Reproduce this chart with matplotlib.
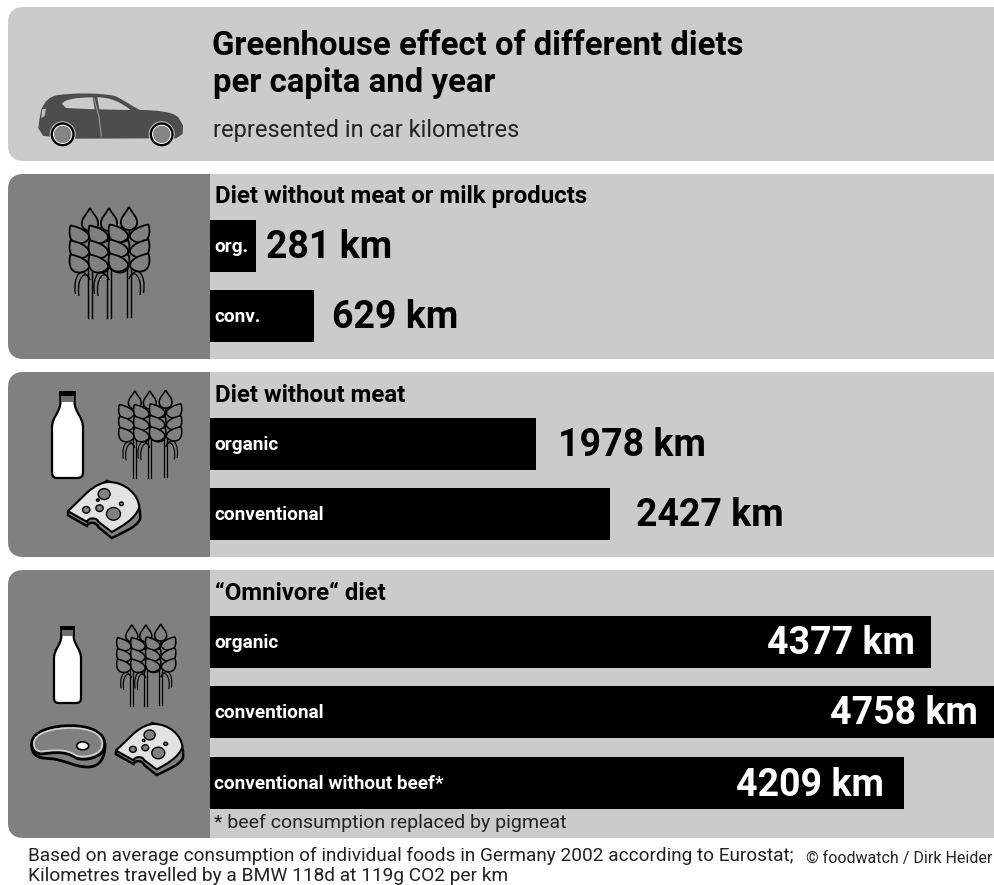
import matplotlib
matplotlib.use("Agg")
import matplotlib.pyplot as plt
from matplotlib.patches import PathPatch, Ellipse, Rectangle, Circle
from matplotlib.path import Path

plt.rcParams['font.family'] = ['Roboto', 'DejaVu Sans']

# data
title_lines = ["Greenhouse effect of different diets", "per capita and year"]
subtitle = "represented in car kilometres"
group_names = ["Diet without meat or milk products", "Diet without meat", "\u201cOmnivore\u201c diet"]
bar_labels = ["org.", "conv.", "organic", "conventional", "organic", "conventional", "conventional without beef*"]
bar_values = [281, 629, 1978, 2427, 4377, 4758, 4209]
value_texts = ["281 km", "629 km", "1978 km", "2427 km", "4377 km", "4758 km", "4209 km"]
footnote = "* beef consumption replaced by pigmeat"
source_1 = "Based on average consumption of individual foods in Germany 2002 according to Eurostat;"
source_2 = "Kilometres travelled by a BMW 118d at 119g CO2 per km"
credit = "\u00a9 foodwatch / Dirk Heider"

# layout, in pixels
W, H = 994, 885
LIGHT, DARK = "#cbcbcb", "#808080"
bar_y = [246, 316, 444, 514, 642, 712, 783]
value_offset = [10, 18, 22, 26, -16, -16, -20]  # from bar end to label

fig = plt.figure(figsize=(W / 100, H / 100), dpi=100)
ax = fig.add_axes([0, 0, 1, 1])
ax.set_xlim(0, W)
ax.set_ylim(H, 0)
ax.axis("off")

M, L, C, Z = Path.MOVETO, Path.LINETO, Path.CURVE4, Path.CLOSEPOLY


def panel(y0, y1, x1, color, r=16, z=1):
    # only the left corners are rounded
    x0 = 8
    verts = [(x1, y0), (x0 + r, y0), (x0, y0), (x0, y0 + r), (x0, y1 - r), (x0, y1), (x0 + r, y1), (x1, y1), (x1, y0)]
    codes = [M, L, Path.CURVE3, Path.CURVE3, L, Path.CURVE3, Path.CURVE3, L, Z]
    ax.add_patch(PathPatch(Path(verts, codes), fc=color, ec="none", zorder=z))


def curve(points, x0, y0, sx, sy, fc, ec="black", lw=1.5, z=3):
    # points: list of (code, x, y) in local units
    verts, codes = [], []
    for c, x, y in points:
        codes.append(c)
        verts.append((x0 + x * sx, y0 + y * sy))
    ax.add_patch(PathPatch(Path(verts, codes), fc=fc, ec=ec, lw=lw, zorder=z))


def leaf(cx, cy, w, h, sign, s, lw):
    # one grain, pointed end up and outwards
    k = sign
    pts = [(M, k * w * .5, -h * .62), (C, k * w * .12, -h * .55), (C, -k * w * .5, -h * .25), (C, -k * w * .42, h * .15),
           (C, -k * w * .2, h * .55), (C, k * w * .4, h * .55), (C, k * w * .5, h * .1),
           (C, k * w * .58, -h * .15), (C, k * w * .55, -h * .4), (C, k * w * .5, -h * .62)]
    curve(pts, cx, cy, s, s, DARK, lw=lw)


def wheat(x0, y0, s):
    # x0,y0 = top-left of the icon, s = scale (1 is the big one)
    lw = 1.3 * max(s, 0.85)
    for cx, dy, hook in [(20, 1, -1), (39, 1, -1), (59, 0, 1)]:
        cx_ = x0 + cx * s
        top = y0 + dy * s
        for off in (-2, 2):
            ax.plot([cx_ + off * s, cx_ + off * s], [top + 58 * s, top + 110 * s], color="black", lw=lw * 0.8, zorder=3)
        for w_, end in ((0, 88), (3.5, 86)):
            curve([(M, 0, 72), (C, hook * (4 + w_), 60 - w_), (C, hook * (14 + w_), 70 - w_), (C, hook * (11 + w_), end)],
                  cx_, top, s, s, "none", lw=lw * 0.75)
        # top grain
        curve([(M, 0, 0), (C, -3, 6), (C, -9, 10), (C, -8, 17), (C, -6, 25), (C, 6, 25), (C, 8, 17), (C, 9, 10), (C, 3, 6), (C, 0, 0)],
              cx_, top, s, s, DARK, lw=lw)
        for lev in (28, 43, 57):
            for sign in (-1, 1):
                leaf(cx_ + sign * 9.5 * s, top + lev * s, 20, 17, sign, s, lw)


def bottle(x0, y0, w, h):
    # unit box 0..1
    pts = [(M, .27, .05), (L, .27, .14), (C, .25, .25), (C, 0, .30), (C, 0, .42), (L, 0, .93), (C, 0, 1), (C, .1, 1),
           (C, .2, 1), (L, .8, 1), (C, .95, 1), (C, 1, .98), (C, 1, .93), (L, 1, .42), (C, 1, .30), (C, .75, .25),
           (C, .73, .14), (L, .73, .05), (Z, .27, .05)]
    curve(pts, x0, y0, w, h, "white", lw=1.6)
    ax.add_patch(Rectangle((x0 + .28 * w, y0 + .05 * h), .44 * w, .08 * h, fc="#6e6e6e", ec="none", zorder=4))
    ax.add_patch(Rectangle((x0 + .22 * w, y0), .56 * w, .055 * h, fc="black", ec="none", zorder=5))


def cheese(x0, y0, w, h):
    # local coordinates are in 220 x 170 units
    sx, sy = w / 220, h / 170
    side = [(M, 3, 90), (L, 3, 102), (L, 60, 134), (C, 65, 120), (C, 90, 122), (C, 95, 138), (L, 135, 170),
            (C, 175, 150), (C, 205, 140), (C, 220, 115), (C, 225, 70), (C, 200, 25), (C, 120, 0), (L, 3, 90)]
    curve(side, x0, y0, sx, sy, DARK, lw=1.8)
    top = [(M, 3, 90), (L, 60, 35), (C, 85, 12), (C, 110, 3), (C, 125, 3), (C, 175, 3), (C, 215, 40), (C, 218, 78),
           (C, 205, 115), (C, 165, 135), (C, 135, 152), (L, 95, 122), (C, 90, 108), (C, 65, 108), (C, 60, 122), (L, 3, 90)]
    curve(top, x0, y0, sx, sy, "#e2e2e2", lw=1.5)
    for cx, cy, rx in [(112, 39, 18), (93, 57, 4), (58, 86, 11), (98, 81, 11), (140, 98, 21), (164, 68, 6)]:
        ax.add_patch(Ellipse((x0 + cx * sx, y0 + cy * sy), 2 * rx * sx, 1.8 * rx * sy, fc=DARK, ec="black", lw=1, zorder=4))


def steak(x0, y0, w, h):
    sx, sy = w / 222, h / 127
    under = [(M, 2, 55), (C, 0, 100), (C, 30, 100), (C, 60, 102), (C, 100, 105), (C, 130, 127), (C, 170, 127),
             (C, 210, 127), (C, 222, 95), (C, 222, 60), (L, 2, 55)]
    curve(under, x0, y0, sx, sy, DARK, lw=2)
    body = [(M, 2, 55), (C, 5, 15), (C, 70, 2), (C, 120, 2), (C, 180, 2), (C, 225, 25), (C, 221, 60), (C, 222, 100),
            (C, 160, 110), (C, 135, 100), (C, 100, 75), (C, 60, 85), (C, 30, 88), (C, 10, 85), (C, 2, 70), (L, 2, 55)]
    curve(body, x0, y0, sx, sy, DARK, lw=2)
    rim = [(M, 9, 55), (C, 10, 22), (C, 70, 9), (C, 120, 9), (C, 180, 9), (C, 218, 30), (C, 213, 60), (C, 214, 90),
           (C, 160, 102), (C, 135, 92), (C, 100, 68), (C, 60, 78), (C, 30, 80), (C, 12, 78), (C, 9, 66), (L, 9, 55)]
    curve(rim, x0, y0, sx, sy, DARK, ec="#d0d0d0", lw=1.2)
    ax.add_patch(Ellipse((x0 + 155 * sx, y0 + 63 * sy), 36 * sx, 24 * sy, fc="white", ec="black", lw=1.2, zorder=4))


def car():
    # local coordinates: 3x zoom pixels, mapped back to the figure
    ox, oy, s = 0, 60, 1 / 3
    body_c = "#4d4d4d"
    body = [(M, 118, 180), (L, 124, 148), (C, 135, 122), (C, 150, 110), (C, 170, 106), (C, 220, 98), (C, 300, 98),
            (C, 345, 108), (C, 375, 122), (C, 395, 138), (C, 420, 150), (C, 470, 150), (C, 520, 156), (C, 535, 172),
            (L, 549, 196), (L, 548, 222), (L, 528, 235), (L, 225, 236), (L, 130, 228), (L, 115, 205), (L, 118, 180)]
    curve(body, ox, oy, s, s, body_c, ec="none", lw=0)
    win1 = [(M, 186, 132), (C, 192, 118), (C, 230, 112), (C, 278, 112), (L, 284, 148), (L, 198, 144), (L, 186, 132)]
    win2 = [(M, 292, 112), (C, 330, 112), (C, 360, 125), (C, 392, 150), (L, 298, 148), (L, 292, 112)]
    light = [(M, 126, 148), (L, 138, 146), (L, 134, 168), (L, 124, 174), (L, 126, 148)]
    curve(win1, ox, oy, s, s, LIGHT, ec="none", lw=0, z=4)
    curve(win2, ox, oy, s, s, LIGHT, ec="none", lw=0, z=4)
    curve(light, ox, oy, s, s, "#bdbdbd", ec="none", lw=0, z=4)
    ax.plot([ox + 282 * s, ox + 297 * s, ox + 304 * s], [oy + 115 * s, oy + 170 * s, oy + 228 * s], color="#9a9a9a", lw=.8, zorder=4)
    for cx in (188, 485):
        cy = 223
        ax.add_patch(Circle((ox + cx * s, oy + cy * s), 39 * s, fc=LIGHT, ec="none", zorder=4))
        ax.add_patch(Circle((ox + cx * s, oy + cy * s), 36 * s, fc="black", ec="none", zorder=4))
        ax.add_patch(Circle((ox + cx * s, oy + cy * s), 29 * s, fc="white", ec="none", zorder=4))
        ax.add_patch(Circle((ox + cx * s, oy + cy * s), 26 * s, fc="#858585", ec="none", zorder=4))


# panels
panel(7, 161, W, LIGHT)
for y0, y1 in [(174, 359), (372, 557), (570, 838)]:
    panel(y0, y1, W, LIGHT)
    panel(y0, y1, 210, DARK, z=2)

# bars share a kilometre scale; y stays in pixels
bars = fig.add_axes([210 / W, 0, (W - 210) / W, 1])
bars.set_xlim(0, max(bar_values))
bars.set_ylim(H, 0)
bars.axis("off")
bars.patch.set_alpha(0)
bars.barh(bar_y, bar_values, height=52, color="black", zorder=2)

for y, lab, val, txt, off in zip(bar_y, bar_labels, bar_values, value_texts, value_offset):
    bars.annotate(lab, (0, y + 1), xytext=(4 * 0.72, 0), textcoords="offset points", color="white",
                  fontsize=13.7, fontweight="bold", va="center", ha="left", zorder=6)
    inside = off < 0
    bars.annotate(txt, (val, y + 2), xytext=(off * 0.72, 0), textcoords="offset points",
                  color="white" if inside else "black", fontsize=27, fontweight="bold",
                  va="center", ha="right" if inside else "left", zorder=6)

# titles
ax.text(212, 46, title_lines[0], fontsize=23.7, fontweight="bold", va="center", zorder=6)
ax.text(213, 83, title_lines[1], fontsize=23.7, fontweight="bold", va="center", zorder=6)
ax.text(213, 131, subtitle, fontsize=17, va="center", color="#222222", zorder=6)
for y, name in zip([197, 395, 593], group_names):
    ax.text(215, y, name, fontsize=17.3, fontweight="bold", va="center", zorder=6)
ax.text(214, 823, footnote, fontsize=14, va="center", color="#222222", zorder=6)
ax.text(28, 856, source_1, fontsize=13.7, va="center", color="#222222")
ax.text(28, 876, source_2, fontsize=13.8, va="center", color="#222222")
ax.text(992, 858, credit, fontsize=11.5, va="center", ha="right", color="#222222")

# icons
car()
wheat(70, 207, 1.0)
bottle(52, 391, 31, 87)
wheat(119, 390, 0.79)
cheese(67, 481, 73, 57)
bottle(54, 626, 27, 77)
wheat(117, 624, 0.74)
steak(31, 725, 74, 42)
cheese(115, 723, 68, 52)

fig.savefig("out.png", dpi=100, facecolor="white")
